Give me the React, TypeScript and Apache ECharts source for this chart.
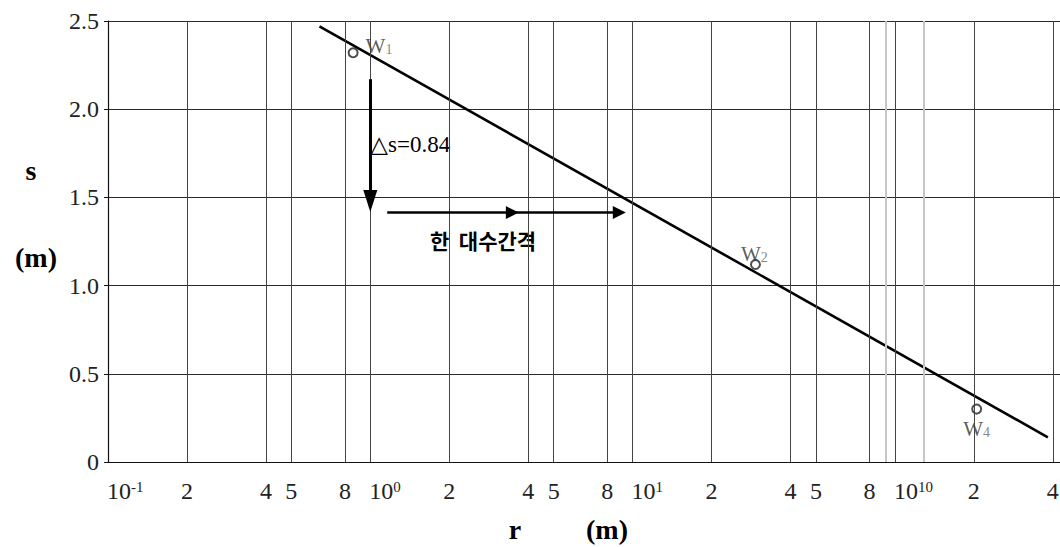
import React, { useEffect, useRef } from 'react';
import * as echarts from 'echarts';

const SERIF = 'Liberation Serif';
const SYMBOL_SERIF = "'Liberation Serif', 'DejaVu Sans', serif";
const KOREAN = "'Noto Sans CJK KR', 'Noto Sans', sans-serif";

// r axis (m), logarithmic
const R_MIN = 0.1;
const R_MAX = 426;
// s axis (m), linear
const S_MIN = 0;
const S_MAX = 2.5;
const S_STEP = 0.5;

// vertical rulings of the semi-log paper
const RULING_R = [0.2, 0.4, 0.5, 0.8, 1, 2, 4, 5, 8, 10, 20, 40, 50, 80, 100, 200, 400];
const FAINT_RULING_R = [92, 129];

// r tick labels: value, main text, superscript
const TICK_R = [0.1, 0.2, 0.4, 0.5, 0.8, 1, 2, 4, 5, 8, 10, 20, 40, 50, 80, 100, 200, 400];
const TICK_MAIN = ['10', '2', '4', '5', '8', '10', '2', '4', '5', '8', '10', '2', '4', '5', '8', '10', '2', '4'];
const TICK_SUP = ['-1', '', '', '', '', '0', '', '', '', '', '1', '', '', '', '', '10', '', ''];

// observation wells W1, W2, W4
const WELL_SUB = ['1', '2', '4'];
const WELL_R = [0.86, 29.4, 205];
const WELL_S = [2.32, 1.12, 0.3];

// straight-line fit of drawdown against log r (0.84 m per log cycle)
const FIT_R = [0.64, 383];
const FIT_S = [2.47, 0.14];

// Δs arrow at r = 1 m
const DS_ARROW_R = 1;
const DS_ARROW_S = [2.17, 1.48];
// one-log-cycle arrows
const CYCLE_ARROW_R = [1.16, 3.48, 8.9];
const CYCLE_ARROW_S = 1.414;

const DS_TEXT = '△s=0.84';
const DS_TEXT_AT = [1, 1.8];
const CYCLE_TEXT = '한  대수간격';
const CYCLE_TEXT_AT = [2.69, 1.26];

const WELL_LABEL_STYLE: any[] = [
  { position: 'right', distance: 7, offset: [0, -7] },
  { position: 'top', distance: 0, offset: [-1, 6] },
  { position: 'bottom', distance: 4 },
];

const option: any = {
  animation: false,
  grid: { left: 108, right: 0, top: 21, bottom: 85, outerBoundsMode: 'none' },
  xAxis: {
    type: 'log',
    logBase: 10,
    min: R_MIN,
    max: R_MAX,
    axisLine: { show: true, lineStyle: { color: '#111', width: 1.2 } },
    axisTick: { show: false },
    axisLabel: { show: false },
    splitLine: { show: false },
    minorTick: { show: false },
  },
  yAxis: {
    type: 'value',
    min: S_MIN,
    max: S_MAX,
    interval: S_STEP,
    axisLine: { show: true, lineStyle: { color: '#111', width: 1.2 } },
    axisTick: { show: true, length: 4, lineStyle: { color: '#111' } },
    axisLabel: {
      fontFamily: SERIF,
      fontSize: 24,
      color: '#222',
      margin: 9,
      formatter: (v: number) => (v === 0 ? '0' : v.toFixed(1)),
    },
    splitLine: { show: true, lineStyle: { color: '#2a2a2a', width: 1 } },
  },
  series: [
    {
      name: 'rulings',
      type: 'line',
      data: [],
      z: 1,
      silent: true,
      markLine: {
        silent: true,
        symbol: ['none', 'none'],
        label: { show: false },
        emphasis: { disabled: true },
        lineStyle: { type: 'solid', color: '#444', width: 1 },
        data: [
          ...RULING_R.map((r) => ({ xAxis: r, lineStyle: { type: 'solid', color: '#444', width: 1 } })),
          ...FAINT_RULING_R.map((r) => ({ xAxis: r, lineStyle: { type: 'solid', color: '#c6c6c6', width: 2 } })),
        ],
      },
    },
    {
      name: 'fit',
      type: 'line',
      z: 3,
      silent: true,
      symbol: 'none',
      lineStyle: { color: '#000', width: 2.6 },
      data: FIT_R.map((r, i) => [r, FIT_S[i]]),
    },
    {
      name: 'wells',
      type: 'scatter',
      z: 4,
      silent: true,
      symbol: 'emptyCircle',
      symbolSize: 9,
      itemStyle: { color: '#222', borderWidth: 1.2 },
      label: {
        show: true,
        formatter: (p: any) => `{w|W}{n|${WELL_SUB[p.dataIndex]}}`,
        rich: {
          w: { fontFamily: SERIF, fontSize: 21, color: '#333', verticalAlign: 'bottom' },
          n: { fontFamily: SERIF, fontSize: 14, color: '#666', verticalAlign: 'bottom' },
        },
      },
      data: WELL_R.map((r, i) => ({ value: [r, WELL_S[i]], label: WELL_LABEL_STYLE[i] })),
    },
    {
      name: 'arrows',
      type: 'line',
      data: [],
      z: 5,
      silent: true,
      color: '#000',
      markLine: {
        silent: true,
        symbol: ['none', 'triangle'],
        symbolSize: 13,
        label: { show: false },
        emphasis: { disabled: true },
        lineStyle: { type: 'solid', color: '#000', width: 2.6 },
        itemStyle: { color: '#000' },
        data: [
          [
            { coord: [DS_ARROW_R, DS_ARROW_S[0]], lineStyle: { width: 3 } },
            { coord: [DS_ARROW_R, DS_ARROW_S[1]], symbolSize: [14, 22] },
          ],
          [
            { coord: [CYCLE_ARROW_R[0], CYCLE_ARROW_S] },
            { coord: [CYCLE_ARROW_R[1], CYCLE_ARROW_S] },
          ],
          [
            { coord: [CYCLE_ARROW_R[1], CYCLE_ARROW_S] },
            { coord: [CYCLE_ARROW_R[2], CYCLE_ARROW_S] },
          ],
        ],
      },
    },
  ],
};

export default function App() {
  const ref = useRef<HTMLDivElement>(null);

  useEffect(() => {
    if (!ref.current) return;
    const chart = echarts.init(ref.current, null, { renderer: 'svg' });
    chart.setOption(option);

    const at = (r: number, s: number) => chart.convertToPixel({ gridIndex: 0 }, [r, s]) as number[];
    const texts: any[] = [];

    // r tick labels under the axis
    TICK_R.forEach((r, i) => {
      const [x, y] = at(r, S_MIN);
      const sup = TICK_SUP[i];
      texts.push({
        type: 'text',
        silent: true,
        x: sup ? x - 1 : x,
        y: y + 29,
        style: {
          text: sup ? `{b|${TICK_MAIN[i]}}{p|${sup}}` : `{b|${TICK_MAIN[i]}}`,
          align: sup ? 'left' : 'center',
          verticalAlign: 'middle',
          rich: {
            b: { fontFamily: SERIF, fontSize: 24, fill: '#222' },
            p: { fontFamily: SERIF, fontSize: 15, fill: '#222', verticalAlign: 'top' },
          },
        },
      });
    });

    // annotations
    const [dx, dy] = at(DS_TEXT_AT[0], DS_TEXT_AT[1]);
    texts.push({
      type: 'text',
      silent: true,
      x: dx,
      y: dy,
      style: {
        text: DS_TEXT,
        fontFamily: SYMBOL_SERIF,
        fontSize: 23,
        fill: '#000',
        align: 'left',
        verticalAlign: 'middle',
      },
    });
    const [cx, cy] = at(CYCLE_TEXT_AT[0], CYCLE_TEXT_AT[1]);
    texts.push({
      type: 'text',
      silent: true,
      x: cx,
      y: cy,
      style: {
        text: CYCLE_TEXT,
        fontFamily: KOREAN,
        fontWeight: 'bold',
        fontSize: 21,
        fill: '#000',
        align: 'center',
        verticalAlign: 'middle',
      },
    });

    // axis titles
    const title = (text: string, x: number, y: number) => ({
      type: 'text',
      silent: true,
      x,
      y,
      style: {
        text,
        fontFamily: SERIF,
        fontWeight: 'bold',
        fontSize: 28,
        fill: '#000',
        align: 'center',
        verticalAlign: 'middle',
      },
    });
    texts.push(title('s', 31, 170));
    texts.push(title('(m)', 36, 257));
    texts.push(title('r', 515, 529));
    texts.push(title('(m)', 607, 529));

    chart.setOption({ graphic: texts });

    return () => chart.dispose();
  }, []);

  return (
    <div
      ref={ref}
      style={{ position: 'fixed', left: 0, top: 0, width: 1060, height: 547, background: '#fff' }}
    />
  );
}
